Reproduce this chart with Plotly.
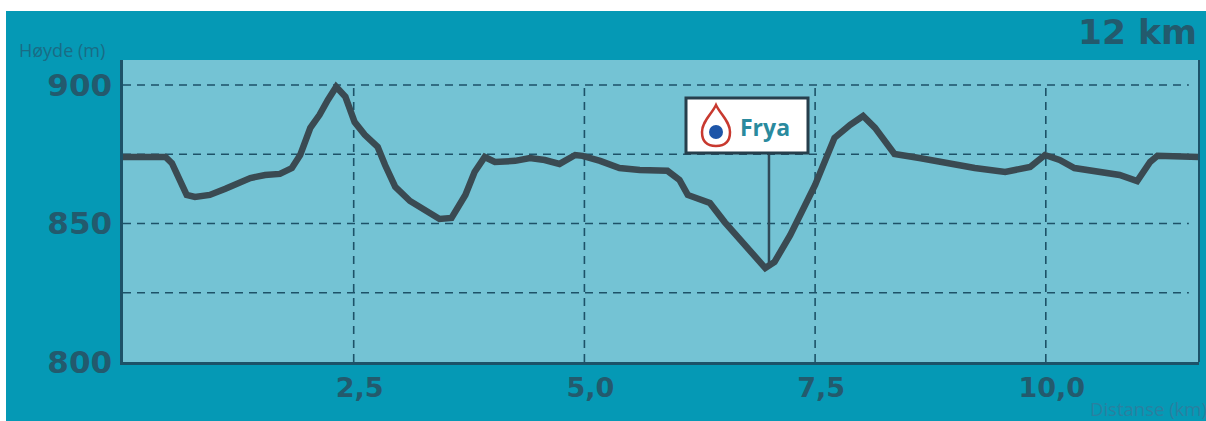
import plotly.graph_objects as go

distance_km = [0, 0.46, 0.53, 0.62, 0.69, 0.78, 0.94, 1.11, 1.38, 1.54, 1.70, 1.83, 1.92, 2.03, 2.13, 2.22, 2.31,
               2.41, 2.51, 2.62, 2.76, 2.84, 2.95, 3.11, 3.27, 3.43, 3.56, 3.71, 3.81, 3.92, 4.03, 4.25, 4.41,
               4.57, 4.73, 4.90, 4.98, 5.17, 5.38, 5.60, 5.90, 6.03, 6.12, 6.36, 6.52, 6.74, 6.96, 7.06, 7.23,
               7.50, 7.71, 7.88, 8.02, 8.15, 8.36, 8.63, 8.91, 9.23, 9.56, 9.83, 9.99, 10.15, 10.31, 10.53,
               10.80, 10.99, 11.13, 11.21, 11.66]
height_m = [874, 874, 871.8, 865.7, 860.3, 859.6, 860.3, 862.5, 866.4, 867.5, 867.9, 870, 874.7, 884.5, 889.2,
            894.6, 899.3, 895.7, 886.6, 882, 877.6, 871.1, 863.2, 858.1, 854.9, 851.6, 852, 860.3, 868.6, 874,
            872.2, 872.6, 873.6, 872.9, 871.5, 874.7, 874.4, 872.6, 870, 869.3, 869, 865.7, 860.3, 857.4, 850.5,
            842.2, 833.9, 836.1, 845.8, 863.9, 880.9, 885.6, 888.8, 884.5, 875.1, 873.6, 871.8, 870, 868.6,
            870.4, 874.7, 872.9, 870, 869, 867.5, 865.3, 872.2, 874.4, 874]

x_ticks = [2.5, 5.0, 7.5, 10.0]
x_tick_labels = ["2,5", "5,0", "7,5", "10,0"]
y_ticks = [800, 825, 850, 875, 900]
y_tick_labels = ["800", "", "850", "", "900"]
y_grid = [825, 850, 875, 900]
x_end = 11.66
y_top = 909
marker_km = 7.0
marker_low = 834
marker_high = 875.5
marker_name = "Frya"

W, H = 1206, 421
L, R, T, B = 123, 1199, 60, 362
def px(v): return (v - L) / (R - L)
def py(v): return (B - v) / (B - T)

OUTER = "#0599b5"
INNER = "#74c3d4"
DARK = "#1d5268"
LINE = "#3a4a52"
TEXT = "#235a6d"

fig = go.Figure()
for g in y_grid:
    fig.add_trace(go.Scatter(x=[0, 11.55], y=[g, g], mode="lines", hoverinfo="skip",
                             line=dict(color=DARK, width=1.6, dash="8px 6px")))
for t in x_ticks:
    fig.add_trace(go.Scatter(x=[t, t], y=[800, 900], mode="lines", hoverinfo="skip",
                             line=dict(color=DARK, width=1.6, dash="8px 6px")))
fig.add_trace(go.Scatter(x=[marker_km, marker_km], y=[marker_low, marker_high], mode="lines", hoverinfo="skip",
                         line=dict(color="#2f4a58", width=2.5)))
fig.add_trace(go.Scatter(x=distance_km, y=height_m, mode="lines", name="Høyde",
                         line=dict(color=LINE, width=6.5, shape="linear")))

def drop_path(cx, top, cy, r):
    return (f"M {px(cx)} {py(top)} "
            f"C {px(cx + r*0.3)} {py(top + 9)}, {px(cx + r)} {py(cy - r*0.75)}, {px(cx + r)} {py(cy)} "
            f"C {px(cx + r)} {py(cy + r*0.75)}, {px(cx + r*0.55)} {py(cy + r)}, {px(cx)} {py(cy + r)} "
            f"C {px(cx - r*0.55)} {py(cy + r)}, {px(cx - r)} {py(cy + r*0.75)}, {px(cx - r)} {py(cy)} "
            f"C {px(cx - r)} {py(cy - r*0.75)}, {px(cx - r*0.3)} {py(top + 9)}, {px(cx)} {py(top)} Z")

shapes = [
    dict(type="rect", xref="paper", yref="paper", x0=px(6), x1=px(W + 5), y0=py(H + 5), y1=py(11),
         fillcolor=OUTER, line_width=0, layer="below"),
    dict(type="rect", xref="paper", yref="paper", x0=0, x1=1, y0=0, y1=1,
         fillcolor=INNER, line_width=0, layer="below"),
    dict(type="line", xref="paper", yref="paper", x0=1, x1=1, y0=0, y1=1, line=dict(color=DARK, width=2)),
    dict(type="rect", xref="paper", yref="paper", x0=px(686), x1=px(808), y0=py(153), y1=py(98),
         fillcolor="white", line=dict(color="#263f4c", width=3)),
    dict(type="path", xref="paper", yref="paper", path=drop_path(716, 105, 132, 14),
         fillcolor="white", line=dict(color="#c8392f", width=2.5)),
    dict(type="circle", xref="paper", yref="paper", x0=px(709), x1=px(723), y0=py(139), y1=py(125),
         fillcolor="#1d55a8", line_width=0),
]

def note(text, x, y, size, color, xanchor="left", bold=False, family="DejaVu Sans"):
    return dict(text=f"<b>{text}</b>" if bold else text, xref="paper", yref="paper", x=px(x), y=py(y),
                showarrow=False, xanchor=xanchor, yanchor="middle",
                font=dict(size=size, color=color, family=family))

annotations = [
    note("12 km", 1199, 32, 34.5, TEXT, "right", True),
    note("Høyde (m)", 17, 50, 18, "#1a6c85", family="Open Sans"),
    note("Distanse (km)", 1088, 408, 18.5, "#2a80a0", family="Open Sans"),
    note(marker_name, 738, 127, 23, "#2a8a9e", bold=True, family="Open Sans"),
]

fig.update_layout(
    width=W, height=H, margin=dict(l=L, r=W - R, t=T, b=H - B, pad=0),
    paper_bgcolor="white", plot_bgcolor=INNER, showlegend=False,
    shapes=shapes, annotations=annotations,
    xaxis=dict(range=[0, x_end], tickmode="array", tickvals=x_ticks, ticktext=x_tick_labels,
               showgrid=False, zeroline=False, showline=True, linecolor=DARK, linewidth=2.5, ticks="",
               ticklabelstandoff=0, ticklabelshift=6,
               tickfont=dict(family="DejaVu Sans", size=27, color=TEXT, weight="bold")),
    yaxis=dict(range=[800, y_top], tickmode="array", tickvals=y_ticks, ticktext=y_tick_labels,
               showgrid=False, zeroline=False, showline=True, linecolor=DARK, linewidth=2.5, ticks="",
               ticklabelstandoff=2,
               tickfont=dict(family="DejaVu Sans", size=31, color=TEXT, weight="bold")),
)
fig.write_html("out.html", config=dict(displayModeBar=False),
               post_script="document.body.style.margin='0';document.documentElement.style.overflow='hidden';")
